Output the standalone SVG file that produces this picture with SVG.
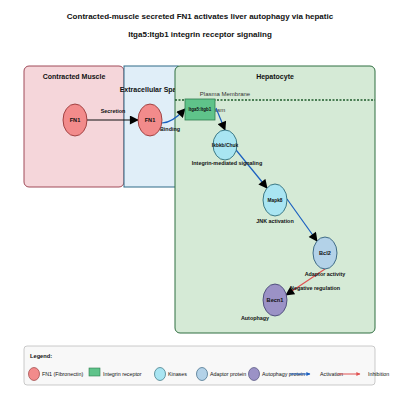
<svg xmlns="http://www.w3.org/2000/svg" width="400" height="400" viewBox="0 0 400 400">
<defs>
<style>
text{font-family:"Liberation Sans",Arial,sans-serif;fill:#111}
.title{font-size:8px;font-weight:bold;text-anchor:middle}
.comp{font-size:7px;font-weight:bold;text-anchor:middle}
.nl{font-size:5.6px;font-weight:bold;text-anchor:middle}
.el{font-size:5.4px;font-weight:bold;text-anchor:middle}
.lg{font-size:5.3px}
.edge{fill:none;stroke-width:1.2}
.act{stroke:#1a5fc0}
.inh{stroke:#e05050}
</style>
<marker id="ah" viewBox="0 0 10 10" refX="9" refY="5" markerWidth="10" markerHeight="9" markerUnits="userSpaceOnUse" orient="auto"><path d="M0,0 L10,5 L0,10 z" fill="#000"/></marker>
<marker id="ahb" viewBox="0 0 10 10" refX="9" refY="5" markerWidth="5" markerHeight="4" markerUnits="userSpaceOnUse" orient="auto"><path d="M0,0 L10,5 L0,10 z" fill="#1a5fc0"/></marker>
<marker id="ahr" viewBox="0 0 10 10" refX="9" refY="5" markerWidth="5" markerHeight="4" markerUnits="userSpaceOnUse" orient="auto"><path d="M0,0 L10,5 L0,10 z" fill="#e05050"/></marker>
</defs>
<text class="title" x="200" y="19">Contracted-muscle secreted FN1 activates liver autophagy via hepatic</text>
<text class="title" x="200" y="37">Itga5:Itgb1 integrin receptor signaling</text>

<g id="compartment-muscle">
<rect x="24" y="66" width="100" height="121" rx="5" fill="#f5d6da" stroke="#a04a58" stroke-width="1"/>
<text class="comp" x="74" y="79">Contracted Muscle</text>
</g>
<g id="compartment-extracellular">
<rect x="124" y="66" width="54" height="121" fill="#e0eef8" stroke="#2e6a88" stroke-width="1"/>
<text class="comp" x="152" y="92">Extracellular Space</text>
</g>
<g id="compartment-hepatocyte">
<rect x="175" y="66" width="200" height="267" rx="5" fill="#d5ead6" stroke="#2f6e40" stroke-width="1"/>
<text class="comp" x="275" y="79">Hepatocyte</text>
<line x1="175" y1="100" x2="375" y2="100" stroke="#1d5a2a" stroke-width="1.5" stroke-dasharray="2,1.5"/>
<text x="225" y="96" style="font-size:6px;text-anchor:middle;fill:#333">Plasma Membrane</text>
<text x="211" y="112" style="font-size:6px;text-anchor:middle;fill:#333">Cytoplasm</text>
</g>

<g id="connectors">
<line class="edge" x1="87" y1="120" x2="138" y2="120" stroke="#111" stroke-width="1.6" marker-end="url(#ah)"/>
<path class="edge act" d="M162,123 Q172,123 185,109" marker-end="url(#ah)"/>
<line class="edge act" x1="216" y1="108" x2="225" y2="130" marker-end="url(#ah)"/>
<line class="edge act" x1="232" y1="145" x2="267" y2="188" marker-end="url(#ah)"/>
<line class="edge act" x1="287" y1="199" x2="317" y2="241" marker-end="url(#ah)"/>
<line class="edge inh" x1="325" y1="269" x2="286" y2="295" marker-end="url(#ah)"/>
<text class="el" x="113" y="113">Secretion</text>
<text class="el" x="170" y="131">Binding</text>
<text class="el" x="227" y="165">Integrin-mediated signaling</text>
<text class="el" x="275" y="223">JNK activation</text>
<text class="el" x="325" y="276">Adaptor activity</text>
<text class="el" x="315" y="290">Negative regulation</text>
<text class="el" x="255" y="320">Autophagy</text>
</g>

<g id="node-fn1-muscle">
<ellipse cx="75" cy="120" rx="12" ry="16" fill="#f28b8b" stroke="#8b2a2a" stroke-width="0.8"/>
<text class="nl" x="75" y="122">FN1</text>
</g>
<g id="node-fn1-extracellular">
<ellipse cx="150" cy="120" rx="12" ry="16" fill="#f28b8b" stroke="#8b2a2a" stroke-width="0.8"/>
<text class="nl" x="150" y="122">FN1</text>
</g>
<g id="node-itga5-itgb1">
<rect x="185" y="99" width="30" height="21" fill="#5fc38a" stroke="#2e7d4e" stroke-width="0.8"/>
<text class="nl" x="200" y="111" style="font-size:4.5px">Itga5:Itgb1</text>
</g>
<g id="node-ikbkb-chuk">
<ellipse cx="225" cy="145" rx="12" ry="15" fill="#a9e5f2" stroke="#1a5a6a" stroke-width="0.8"/>
<text class="nl" x="225" y="147" style="font-size:4.9px">Ikbkb/Chuk</text>
</g>
<g id="node-mapk8">
<ellipse cx="275" cy="200" rx="12" ry="16" fill="#a9e5f2" stroke="#1a5a6a" stroke-width="0.8"/>
<text class="nl" x="275" y="202" style="font-size:4.8px">Mapk8</text>
</g>
<g id="node-bcl2">
<ellipse cx="325" cy="253" rx="12" ry="16" fill="#b3d2e8" stroke="#1f4f6e" stroke-width="0.8"/>
<text class="nl" x="325" y="255">Bcl2</text>
</g>
<g id="node-becn1">
<ellipse cx="275" cy="300" rx="12" ry="16" fill="#9b92c6" stroke="#3a3a6a" stroke-width="0.8"/>
<text class="nl" x="275" y="302">Becn1</text>
</g>

<g id="legend">
<rect x="24" y="346" width="351" height="39" rx="3" fill="#f8f8f8" stroke="#aaaaaa" stroke-width="0.6"/>
<text class="lg" x="30" y="358" style="font-weight:bold;font-size:5.7px">Legend:</text>
<ellipse cx="34" cy="374" rx="5.5" ry="6.5" fill="#f28b8b" stroke="#8b2a2a" stroke-width="0.6"/>
<text class="lg" x="42" y="376">FN1 (Fibronectin)</text>
<rect x="89" y="368" width="11" height="8" fill="#5fc38a" stroke="#2e7d4e" stroke-width="0.6"/>
<text class="lg" x="103" y="376">Integrin receptor</text>
<ellipse cx="160" cy="374" rx="5.5" ry="6.5" fill="#a9e5f2" stroke="#1a5a6a" stroke-width="0.6"/>
<text class="lg" x="168" y="376">Kinases</text>
<ellipse cx="202" cy="374" rx="5.5" ry="6.5" fill="#b3d2e8" stroke="#1f4f6e" stroke-width="0.6"/>
<text class="lg" x="210" y="376">Adaptor protein</text>
<ellipse cx="254" cy="374" rx="5.5" ry="6.5" fill="#9b92c6" stroke="#3a3a6a" stroke-width="0.6"/>
<text class="lg" x="262" y="376">Autophagy protein</text>
<line x1="290" y1="374" x2="310" y2="374" stroke="#1a5fc0" stroke-width="1" marker-end="url(#ahb)"/>
<text class="lg" x="320" y="376">Activation</text>
<line x1="338" y1="374" x2="360" y2="374" stroke="#e05050" stroke-width="1" marker-end="url(#ahr)"/>
<text class="lg" x="368" y="376">Inhibition</text>
</g>
</svg>
